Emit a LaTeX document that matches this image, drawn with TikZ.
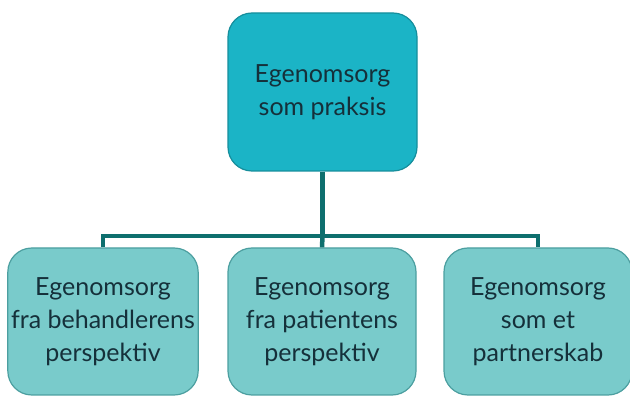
\documentclass[tikz,border=0pt]{standalone}
\usepackage{fontspec}
\setmainfont{Lato}
\begin{document}
\begin{tikzpicture}[x=1pt,y=-1pt,
  topbox/.style={draw=topedge, line width=1.2pt, fill=topfill, rounded corners=24pt,
    minimum width=189pt, minimum height=158pt, align=center, text=inkdark,
    font=\fontsize{25}{33}\selectfont},
  subbox/.style={draw=subedge, line width=1.2pt, fill=subfill, rounded corners=24pt,
    minimum width=188pt, minimum height=147pt, align=center, text=inkdark,
    font=\fontsize{25}{33}\selectfont},
  link/.style={draw=linkteal, line width=4.5pt}]
\definecolor{topfill}{HTML}{1BB4C6}
\definecolor{topedge}{HTML}{168E9C}
\definecolor{subfill}{HTML}{79CBCB}
\definecolor{subedge}{HTML}{4C9FA0}
\definecolor{linkteal}{HTML}{0E6F6E}
\definecolor{inkdark}{HTML}{15303A}
\useasboundingbox (0,0) rectangle (630,398);
% the four boxes
\node[topbox] (root) at (322.5,92) {Egenomsorg\\som praksis};
\node[subbox] (a) at (103,321.5) {Egenomsorg\\fra behandlerens\\perspektiv};
\node[subbox] (b) at (322,321.5) {Egenomsorg\\fra patientens\\perspektiv};
\node[subbox] (c) at (538,321.5) {Egenomsorg\\som et\\partnerskab};
% the tree of connectors through a shared bus line
\coordinate (bus) at (322.5,236);
\draw[link] (root.south) -- (bus);
\draw[link] (a.north) |- (bus) -| (c.north);
\draw[link] (b.north) -- (bus);
\end{tikzpicture}
\end{document}
